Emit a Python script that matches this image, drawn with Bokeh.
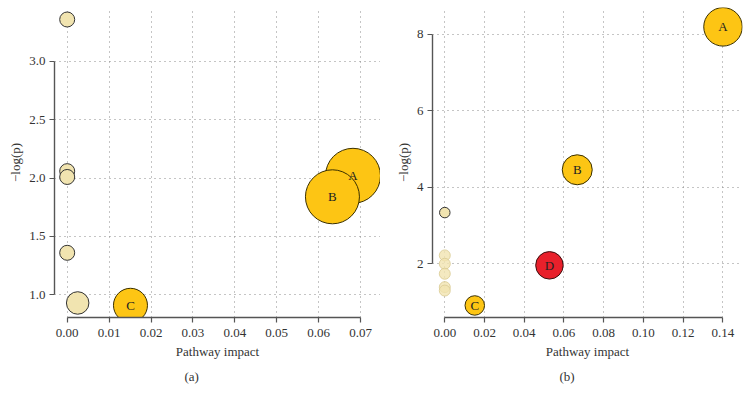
from bokeh.plotting import figure
from bokeh.layouts import row
from bokeh.models import ColumnDataSource, FixedTicker, Title, Range1d, PrintfTickFormatter
from bokeh.embed import file_html
from bokeh.resources import INLINE
from bokeh.core.properties import value

# ---------------- data ----------------
# panel (a)
a_impact = [0.0682, 0.0633, 0.0151, 0.0, 0.0, 0.0, 0.0, 0.0025]
a_logp = [2.02, 1.84, 0.91, 3.36, 2.06, 2.01, 1.36, 0.93]
a_labels = ["A", "B", "C", "", "", "", "", ""]
a_group = ["hit", "hit", "hit", "other", "other", "other", "other", "other"]
a_xticks = [0.0, 0.01, 0.02, 0.03, 0.04, 0.05, 0.06, 0.07]
a_yticks = [1.0, 1.5, 2.0, 2.5, 3.0]

# panel (b)
b_impact = [0.0, 0.0, 0.0, 0.0, 0.0, 0.0, 0.1401, 0.0667, 0.0527, 0.0151]
b_logp = [2.22, 2.00, 1.74, 1.39, 1.30, 3.34, 8.20, 4.46, 1.96, 0.91]
b_labels = ["", "", "", "", "", "", "A", "B", "D", "C"]
b_group = ["faded", "faded", "faded", "faded", "faded", "other", "hit", "hit", "key", "hit"]
b_xticks = [0.0, 0.02, 0.04, 0.06, 0.08, 0.10, 0.12, 0.14]
b_yticks = [2, 4, 6, 8]

# ---------------- styles ----------------
a_diam = [55, 54, 34, 15, 15, 15, 15, 22.5]
b_diam = [11, 11, 11, 11, 11, 10.5, 38.5, 30, 27.5, 19.5]
FILL = {"hit": "#FDC514", "key": "#E8202B", "other": "#F1E4B0", "faded": "#F1E4B0"}
LINE = {"hit": "#3a3000", "key": "#3a1010", "other": "#333333", "faded": "#D9CB92"}
ALPHA = {"hit": 1.0, "key": 1.0, "other": 1.0, "faded": 0.8}
FONT = "Liberation Serif"
TXT = "#333333"


def make_panel(xs, ys, labels, groups, diam, xticks, yticks, xr, yr, width,
               left_border, right_border, xfmt, yfmt, tag, tag_offset):
    src = ColumnDataSource(dict(
        x=xs, y=ys, label=labels, size=diam,
        fill=[FILL[g] for g in groups],
        line=[LINE[g] for g in groups],
        alpha=[ALPHA[g] for g in groups],
    ))
    p = figure(width=width, height=400, x_range=Range1d(*xr), y_range=Range1d(*yr),
               output_backend="svg", toolbar_location=None, title=None,
               min_border_left=left_border, min_border_right=right_border,
               min_border_top=7, min_border_bottom=83)
    p.outline_line_color = None
    p.background_fill_color = "white"
    p.border_fill_color = "white"

    # grids
    p.xgrid.ticker = FixedTicker(ticks=xticks, minor_ticks=[])
    p.ygrid.ticker = FixedTicker(ticks=yticks, minor_ticks=[])
    p.xgrid.bounds = xr
    p.ygrid.bounds = yr
    for g in (p.xgrid, p.ygrid):
        g.grid_line_color = "#8a8a8a"
        g.grid_line_dash = "1 4"
        g.grid_line_width = 1

    # axes
    p.xaxis.ticker = FixedTicker(ticks=xticks, minor_ticks=[])
    p.yaxis.ticker = FixedTicker(ticks=yticks, minor_ticks=[])
    p.xaxis.formatter = PrintfTickFormatter(format=xfmt)
    p.yaxis.formatter = PrintfTickFormatter(format=yfmt)
    p.xaxis.bounds = (xticks[0], xticks[-1])
    p.yaxis.bounds = (yticks[0], yticks[-1])
    p.xaxis.axis_label = "Pathway impact"
    p.yaxis.axis_label = "\u2212log(p)"
    for ax in (p.xaxis, p.yaxis):
        ax.axis_line_color = "#555555"
        ax.axis_line_width = 1.4
        ax.major_tick_line_color = "#555555"
        ax.major_tick_line_width = 1.2
        ax.major_tick_out = 5
        ax.major_tick_in = 0
        ax.minor_tick_line_color = None
        ax.major_label_text_font = FONT
        ax.major_label_text_font_size = "13px"
        ax.major_label_text_color = TXT
        ax.axis_label_text_font = FONT
        ax.axis_label_text_font_size = "13px"
        ax.axis_label_text_font_style = "normal"
        ax.axis_label_text_color = TXT
    p.xaxis.major_label_standoff = 6
    p.xaxis.axis_label_standoff = 4
    p.yaxis.major_label_standoff = 4
    p.yaxis.axis_label_standoff = 3

    p.scatter("x", "y", source=src, size="size", fill_color="fill",
              line_color="line", fill_alpha="alpha", line_alpha="alpha",
              line_width=1)
    p.text("x", "y", text="label", source=src, text_font=value(FONT),
           text_font_size="13px", text_color="#222222",
           text_align="center", text_baseline="middle")

    p.add_layout(Title(text=tag, align="left", offset=tag_offset,
                       text_font=FONT, text_font_size="13px",
                       text_font_style="normal", text_color=TXT), "below")
    return p


pa = make_panel(a_impact, a_logp, a_labels, a_group, a_diam, a_xticks, a_yticks,
                (-0.00303, 0.07477), (0.8054, 3.4628), 380, 54, 0,
                "%.2f", "%.1f", "(a)", 130)
pb = make_panel(b_impact, b_logp, b_labels, b_group, b_diam, b_xticks, b_yticks,
                (-0.00619, 0.14992), (0.595, 8.706), 370, 52, 8,
                "%.2f", "%d", "(b)", 127)

layout = row(pa, pb)
open("out.html", "w").write(file_html(layout, INLINE, title="Pathway impact"))
